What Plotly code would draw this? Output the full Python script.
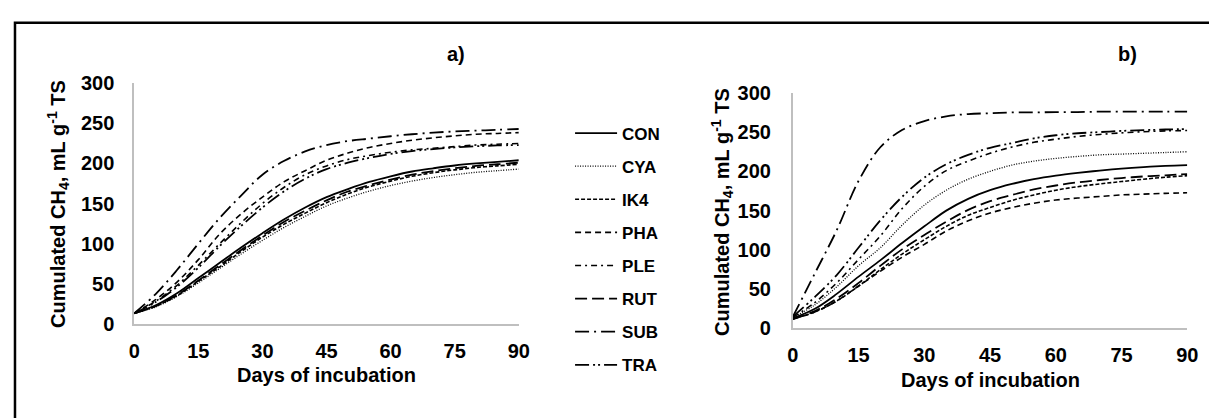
import plotly.graph_objects as go

# page is rendered inside <body> with the browser's default 8px margin
OFF = 8
W, H = 1217 - OFF, 418 - OFF

days = [0, 5, 10, 15, 20, 25, 30, 35, 40, 45, 50, 55, 60, 65, 70, 75, 80, 85, 90]
series = ["CON", "CYA", "IK4", "PHA", "PLE", "RUT", "SUB", "TRA"]

# panel a)
a_CON = [13, 23, 38, 57, 76, 95, 113, 130, 145, 158, 168, 177, 184, 190, 194, 197.5, 200, 202, 204]
a_CYA = [13, 21, 34, 51, 69, 87, 104, 120, 134, 147, 157, 165.5, 172.5, 178, 182.5, 186, 189, 191, 193]
a_IK4 = [13, 22, 35, 53, 71, 90, 108, 124, 138, 151, 162, 171, 178, 184, 188.5, 192, 195, 197, 199]
a_PHA = [13, 30, 52, 80, 112, 137, 158, 177, 191, 204, 213, 220, 225, 229, 232, 234.5, 236.5, 237.5, 238.5]
a_PLE = [13, 28, 48, 73, 100, 126, 150, 170, 186, 197, 205, 210, 214, 217, 219, 221, 223, 224, 225]
a_RUT = [13, 22, 36, 54, 73, 92, 110, 127, 141, 154, 165, 173, 180, 186, 190.5, 194, 197, 199, 201]
a_SUB = [13, 37, 67, 100, 132, 160, 186, 203, 215, 223, 228, 231, 234, 236.5, 238.5, 240, 241, 242, 243]
a_TRA = [13, 27, 46, 70, 97, 122, 145, 165, 181, 193, 201, 207, 212, 215.5, 218, 220, 221.5, 222.5, 223]

# panel b)
b_CON = [13, 25, 44, 66, 87, 109, 130, 150, 165, 176, 184, 190, 194.5, 198, 201, 203.5, 205.5, 207, 208]
b_CYA = [14, 30, 53, 80, 103, 132, 157, 176, 190, 200, 208, 213, 216.5, 219, 221, 222, 223, 224, 225]
b_IK4 = [12, 21, 35, 54, 75, 95, 113, 130, 144, 154, 163, 170, 176, 180.5, 184, 187, 190, 192.5, 194.5]
b_PHA = [12, 21, 35, 54, 73, 91, 107, 124, 137, 147, 154, 159.5, 163.5, 166, 168, 170, 171, 172, 172.7]
b_PLE = [14, 33, 58, 88, 118, 153, 181, 201, 213, 223, 231, 237, 241, 244.5, 247, 249, 250.5, 251.5, 252]
b_RUT = [12, 22, 38, 58, 80, 101, 119, 136, 151, 162, 170, 177, 182, 186, 189, 191.5, 193.5, 195, 196.5]
b_SUB = [15, 70, 125, 188, 231, 253, 264, 270, 273, 274, 275, 275, 275.5, 275.5, 276, 276, 276, 276, 276]
b_TRA = [15, 40, 68, 103, 138, 168, 192, 209, 221, 230, 236, 242, 246, 248.5, 250, 251.5, 252.5, 253.3, 254]

x_ticks = [0, 15, 30, 45, 60, 75, 90]
y_ticks = [0, 50, 100, 150, 200, 250, 300]

panel_a = dict(CON=a_CON, CYA=a_CYA, IK4=a_IK4, PHA=a_PHA, PLE=a_PLE, RUT=a_RUT, SUB=a_SUB, TRA=a_TRA)
panel_b = dict(CON=b_CON, CYA=b_CYA, IK4=b_IK4, PHA=b_PHA, PLE=b_PLE, RUT=b_RUT, SUB=b_SUB, TRA=b_TRA)

styles = {
    "CON": dict(dash="solid", width=1.8),
    "CYA": dict(dash="1px,1.5px", width=1.3),
    "IK4": dict(dash="4px,2px", width=1.6),
    "PHA": dict(dash="6px,4px", width=1.6),
    "PLE": dict(dash="6px,4px,2px,4px", width=1.6),
    "RUT": dict(dash="12px,5px", width=1.8),
    "SUB": dict(dash="14px,5px,2px,5px", width=1.8),
    "TRA": dict(dash="14px,4px,2px,3px,2px,4px", width=1.8),
}

FONT = "Liberation Sans, Arial, sans-serif"


def px_x(p):
    """page pixel -> paper x"""
    return (p - OFF) / W


def px_y(p):
    """page pixel -> paper y"""
    return 1 - (p - OFF) / H


fig = go.Figure()
for name in series:
    st = styles[name]
    fig.add_trace(go.Scatter(
        x=days, y=panel_a[name], mode="lines", name=name, legendgroup=name,
        line=dict(color="black", dash=st["dash"], width=st["width"], shape="spline", smoothing=1.0),
        xaxis="x", yaxis="y", showlegend=True))
for name in series:
    st = styles[name]
    fig.add_trace(go.Scatter(
        x=days, y=panel_b[name], mode="lines", name=name, legendgroup=name,
        line=dict(color="black", dash=st["dash"], width=st["width"], shape="spline", smoothing=1.0),
        xaxis="x2", yaxis="y2", showlegend=False))

tickfont = dict(family=FONT, size=20, color="black", weight="bold")
axis_common = dict(
    showgrid=False, zeroline=False, showline=True, linecolor="#bfbfbf", linewidth=2,
    ticks="", tickfont=tickfont,
)

fig.update_layout(
    width=W, height=H,
    margin=dict(l=0, r=0, t=0, b=0),
    paper_bgcolor="white", plot_bgcolor="white",
    font=dict(family=FONT, color="black"),
    xaxis=dict(domain=[px_x(130), px_x(520)], range=[0, 90], tickvals=x_ticks, anchor="y",
               ticklabelstandoff=8, **axis_common),
    yaxis=dict(domain=[px_y(330), px_y(76)], range=[0, 300], tickvals=y_ticks, anchor="x",
               ticklabelstandoff=14, **axis_common),
    xaxis2=dict(domain=[px_x(798), px_x(1198)], range=[0, 90], tickvals=x_ticks, anchor="y2",
                ticklabelstandoff=8, **axis_common),
    yaxis2=dict(domain=[px_y(335), px_y(86)], range=[0, 300], tickvals=y_ticks, anchor="x2",
                ticklabelstandoff=16, **axis_common),
    legend=dict(
        x=px_x(572), y=px_y(110), xanchor="left", yanchor="top",
        font=dict(family=FONT, size=17, color="black", weight="bold"),
        bgcolor="rgba(0,0,0,0)", traceorder="grouped", tracegroupgap=8,
        itemwidth=42,
    ),
    showlegend=True,
)

ytitle = "<b>Cumulated CH<sub>4</sub>, mL g<sup>-1</sup> TS</b>"
ann = [
    dict(text=ytitle, x=px_x(53), y=px_y(203), textangle=-90),
    dict(text=ytitle, x=px_x(726), y=px_y(212), textangle=-90),
    dict(text="<b>Days of incubation</b>", x=px_x(325), y=px_y(384)),
    dict(text="<b>Days of incubation</b>", x=px_x(998), y=px_y(389)),
    dict(text="<b>a)</b>", x=px_x(456), y=px_y(45)),
    dict(text="<b>b)</b>", x=px_x(1137), y=px_y(45)),
]
for a in ann:
    fig.add_annotation(xref="paper", yref="paper", xanchor="center", yanchor="middle",
                       showarrow=False, font=dict(family=FONT, size=20, color="black"), **a)

# outer frame (extends beyond the visible canvas on the right and bottom)
fig.add_shape(type="rect", xref="paper", yref="paper",
              x0=px_x(9), x1=1.02, y0=-0.05, y1=px_y(12),
              line=dict(color="black", width=2.5), fillcolor="rgba(0,0,0,0)", layer="above")

fig.write_html("out.html")
